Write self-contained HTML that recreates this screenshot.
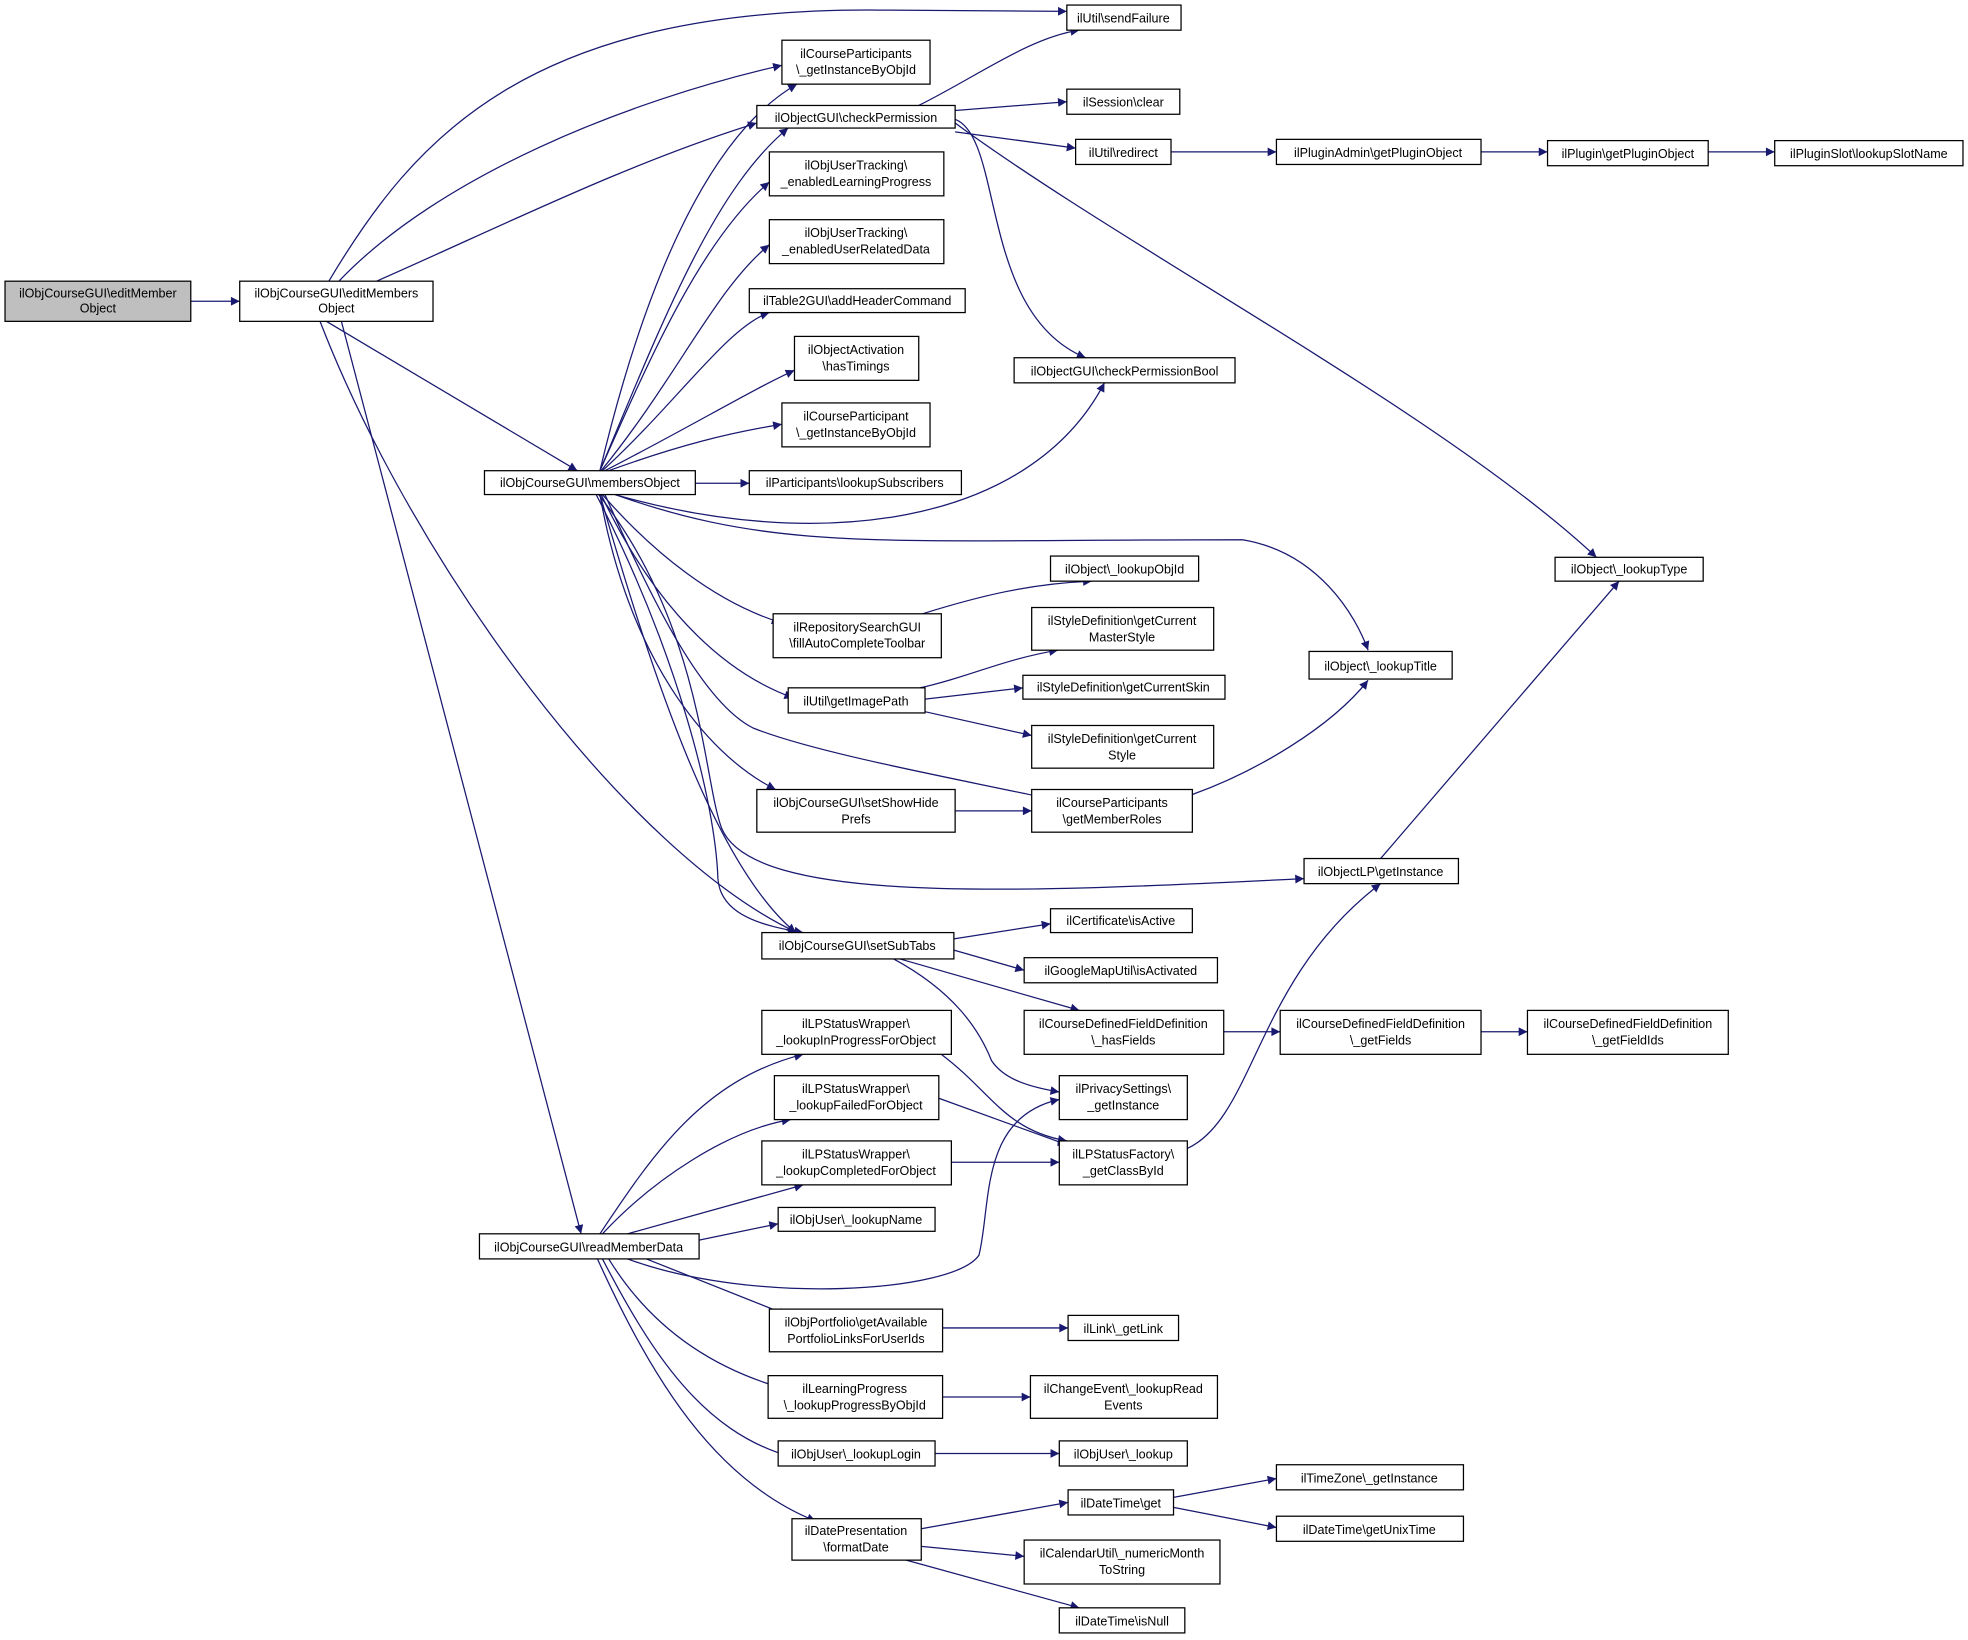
<!DOCTYPE html>
<html><head><meta charset="utf-8"><style>
html,body{margin:0;padding:0;background:#fff;}
svg{display:block;}
text{font-family:"Liberation Sans",Arial,sans-serif;font-size:10px;fill:#000;text-anchor:middle;}
.b{fill:#fff;stroke:#000;stroke-width:1;}
.g{fill:#bfbfbf;stroke:#000;stroke-width:1;}
.e{fill:none;stroke:#191970;stroke-width:1;marker-end:url(#a);}
</style></head><body>
<svg width="1968" height="1640" viewBox="0 0 1568 1306.6" xmlns="http://www.w3.org/2000/svg">
<defs><marker id="a" viewBox="0 0 10 10" refX="10" refY="5" markerWidth="9" markerHeight="7" orient="auto" markerUnits="userSpaceOnUse"><path d="M0,0 L10,5 L0,10 z" fill="#191970"/></marker></defs>
<g>
<path class="e" d="M152,240 L191,240"/>
<path class="e" d="M262,224 C330,110 420,6 700,8 L850,9"/>
<path class="e" d="M270,224 C350,140 500,80 623,52"/>
<path class="e" d="M300,224 C400,180 500,130 603,98"/>
<path class="e" d="M260,256 L460,375"/>
<path class="e" d="M255,256 C330,450 500,680 635,743"/>
<path class="e" d="M272,256 L463,983"/>
<path class="e" d="M478,375 C510,240 560,110 635,67"/>
<path class="e" d="M478,375 C530,250 570,150 628,102"/>
<path class="e" d="M478,375 C520,280 560,190 613,145"/>
<path class="e" d="M479,375 C540,300 570,230 613,195"/>
<path class="e" d="M480,375 C540,320 580,260 613,249"/>
<path class="e" d="M482,375 C550,340 600,310 633,295"/>
<path class="e" d="M485,375 C540,355 580,345 623,338"/>
<path class="e" d="M554,385 L597,385"/>
<path class="e" d="M490,394 C650,440 820,420 880,305"/>
<path class="e" d="M490,394 C620,440 700,430 990,430 C1050,440 1080,490 1090,518"/>
<path class="e" d="M480,394 C520,440 570,480 622,496"/>
<path class="e" d="M479,394 C510,460 560,530 632,556"/>
<path class="e" d="M482,394 C520,480 560,560 600,580 C650,600 760,620 834,636"/>
<path class="e" d="M478,394 C500,520 560,600 618,629"/>
<path class="e" d="M478,394 C520,540 570,690 634,743"/>
<path class="e" d="M475,394 C540,520 570,640 572,700 C574,730 610,738 640,743"/>
<path class="e" d="M477,394 C560,500 560,620 575,660 C600,720 800,712 1039,700"/>
<path class="e" d="M732,84 C780,60 820,30 860,24"/>
<path class="e" d="M761,88 L850,81"/>
<path class="e" d="M761,105 L857,118"/>
<path class="e" d="M761,95 C800,110 780,250 865,285"/>
<path class="e" d="M761,98 C900,200 1150,330 1272,444"/>
<path class="e" d="M933,121 L1017,121"/>
<path class="e" d="M1180,121 L1233,121"/>
<path class="e" d="M1361,121 L1414,121"/>
<path class="e" d="M735,489 C780,475 820,465 870,463"/>
<path class="e" d="M733,548 C770,540 800,525 843,518"/>
<path class="e" d="M737,557 L815,548"/>
<path class="e" d="M737,567 L822,586"/>
<path class="e" d="M761,646 L822,646"/>
<path class="e" d="M950,633 C1000,615 1060,580 1090,542"/>
<path class="e" d="M1100,684 L1290,463"/>
<path class="e" d="M760,748 L837,736"/>
<path class="e" d="M760,757 L816,773"/>
<path class="e" d="M717,764 L860,805"/>
<path class="e" d="M712,764 C760,790 780,820 790,845 C800,860 820,866 844,870"/>
<path class="e" d="M975,822 L1020,822"/>
<path class="e" d="M1180,822 L1217,822"/>
<path class="e" d="M946,915 C1000,890 1000,780 1100,704"/>
<path class="e" d="M750,840 C790,870 800,900 850,909"/>
<path class="e" d="M748,875 L850,912"/>
<path class="e" d="M758,926 L844,926"/>
<path class="e" d="M478,983 C520,920 560,860 640,840"/>
<path class="e" d="M480,983 C520,940 580,900 630,892"/>
<path class="e" d="M500,983 L640,944"/>
<path class="e" d="M557,988 L620,975"/>
<path class="e" d="M500,1003 C600,1040 760,1030 780,1000 C790,960 780,890 844,876"/>
<path class="e" d="M515,1003 L628,1048"/>
<path class="e" d="M485,1003 C520,1060 570,1090 620,1105"/>
<path class="e" d="M480,1003 C520,1080 560,1140 628,1160"/>
<path class="e" d="M476,1003 C520,1100 570,1180 650,1212"/>
<path class="e" d="M751,1058 L851,1058"/>
<path class="e" d="M751,1113 L821,1113"/>
<path class="e" d="M745,1158 L844,1158"/>
<path class="e" d="M734,1218 L851,1197"/>
<path class="e" d="M734,1232 L816,1240"/>
<path class="e" d="M722,1243 L860,1281"/>
<path class="e" d="M935,1193 L1017,1178"/>
<path class="e" d="M935,1201 L1017,1217"/>
</g>
<g>
<rect class="g" x="4" y="224" width="148" height="32"/><text x="78" y="237">ilObjCourseGUI\editMember</text><text x="78" y="249">Object</text>
<rect class="b" x="191" y="224" width="154" height="32"/><text x="268" y="237">ilObjCourseGUI\editMembers</text><text x="268" y="249">Object</text>
<rect class="b" x="386" y="375" width="168" height="19"/><text x="470" y="388">ilObjCourseGUI\membersObject</text>
<rect class="b" x="382" y="983" width="175" height="20"/><text x="469" y="997">ilObjCourseGUI\readMemberData</text>
<rect class="b" x="607" y="743" width="153" height="21"/><text x="683" y="757">ilObjCourseGUI\setSubTabs</text>

<rect class="b" x="623" y="32" width="118" height="35"/><text x="682" y="46">ilCourseParticipants</text><text x="682" y="59">\_getInstanceByObjId</text>
<rect class="b" x="603" y="84" width="158" height="18"/><text x="682" y="97">ilObjectGUI\checkPermission</text>
<rect class="b" x="613" y="121" width="139" height="35"/><text x="682" y="135">ilObjUserTracking\</text><text x="682" y="148">_enabledLearningProgress</text>
<rect class="b" x="613" y="175" width="139" height="35"/><text x="682" y="189">ilObjUserTracking\</text><text x="682" y="202">_enabledUserRelatedData</text>
<rect class="b" x="597" y="230" width="172" height="19"/><text x="683" y="243">ilTable2GUI\addHeaderCommand</text>
<rect class="b" x="633" y="268" width="99" height="35"/><text x="682" y="282">ilObjectActivation</text><text x="682" y="295">\hasTimings</text>
<rect class="b" x="623" y="321" width="118" height="35"/><text x="682" y="335">ilCourseParticipant</text><text x="682" y="348">\_getInstanceByObjId</text>
<rect class="b" x="597" y="375" width="169" height="19"/><text x="681" y="388">ilParticipants\lookupSubscribers</text>
<rect class="b" x="616" y="489" width="134" height="35"/><text x="683" y="503">ilRepositorySearchGUI</text><text x="683" y="516">\fillAutoCompleteToolbar</text>
<rect class="b" x="628" y="548" width="109" height="20"/><text x="682" y="562">ilUtil\getImagePath</text>
<rect class="b" x="603" y="629" width="158" height="34"/><text x="682" y="643">ilObjCourseGUI\setShowHide</text><text x="682" y="656">Prefs</text>
<rect class="b" x="607" y="805" width="151" height="35"/><text x="682" y="819">ilLPStatusWrapper\</text><text x="682" y="832">_lookupInProgressForObject</text>
<rect class="b" x="617" y="857" width="131" height="35"/><text x="682" y="871">ilLPStatusWrapper\</text><text x="682" y="884">_lookupFailedForObject</text>
<rect class="b" x="607" y="909" width="151" height="35"/><text x="682" y="923">ilLPStatusWrapper\</text><text x="682" y="936">_lookupCompletedForObject</text>
<rect class="b" x="620" y="962" width="125" height="19"/><text x="682" y="975">ilObjUser\_lookupName</text>
<rect class="b" x="613" y="1043" width="138" height="34"/><text x="682" y="1057">ilObjPortfolio\getAvailable</text><text x="682" y="1070">PortfolioLinksForUserIds</text>
<rect class="b" x="612" y="1096" width="139" height="34"/><text x="681" y="1110">ilLearningProgress</text><text x="681" y="1123">\_lookupProgressByObjId</text>
<rect class="b" x="620" y="1148" width="125" height="20"/><text x="682" y="1162">ilObjUser\_lookupLogin</text>
<rect class="b" x="631" y="1210" width="103" height="33"/><text x="682" y="1223">ilDatePresentation</text><text x="682" y="1236">\formatDate</text>

<rect class="b" x="850" y="4" width="91" height="20"/><text x="895" y="18">ilUtil\sendFailure</text>
<rect class="b" x="850" y="71" width="90" height="20"/><text x="895" y="85">ilSession\clear</text>
<rect class="b" x="857" y="111" width="76" height="20"/><text x="895" y="125">ilUtil\redirect</text>
<rect class="b" x="808" y="285" width="176" height="20"/><text x="896" y="299">ilObjectGUI\checkPermissionBool</text>
<rect class="b" x="837" y="443" width="118" height="20"/><text x="896" y="457">ilObject\_lookupObjId</text>
<rect class="b" x="822" y="484" width="145" height="34"/><text x="894" y="498">ilStyleDefinition\getCurrent</text><text x="894" y="511">MasterStyle</text>
<rect class="b" x="815" y="538" width="161" height="19"/><text x="895" y="551">ilStyleDefinition\getCurrentSkin</text>
<rect class="b" x="822" y="578" width="145" height="34"/><text x="894" y="592">ilStyleDefinition\getCurrent</text><text x="894" y="605">Style</text>
<rect class="b" x="822" y="629" width="128" height="34"/><text x="886" y="643">ilCourseParticipants</text><text x="886" y="656">\getMemberRoles</text>
<rect class="b" x="837" y="724" width="113" height="19"/><text x="893" y="737">ilCertificate\isActive</text>
<rect class="b" x="816" y="763" width="154" height="20"/><text x="893" y="777">ilGoogleMapUtil\isActivated</text>
<rect class="b" x="816" y="805" width="159" height="35"/><text x="895" y="819">ilCourseDefinedFieldDefinition</text><text x="895" y="832">\_hasFields</text>
<rect class="b" x="844" y="857" width="102" height="35"/><text x="895" y="871">ilPrivacySettings\</text><text x="895" y="884">_getInstance</text>
<rect class="b" x="844" y="909" width="102" height="35"/><text x="895" y="923">ilLPStatusFactory\</text><text x="895" y="936">_getClassById</text>
<rect class="b" x="851" y="1048" width="88" height="20"/><text x="895" y="1062">ilLink\_getLink</text>
<rect class="b" x="821" y="1096" width="149" height="34"/><text x="895" y="1110">ilChangeEvent\_lookupRead</text><text x="895" y="1123">Events</text>
<rect class="b" x="844" y="1148" width="102" height="20"/><text x="895" y="1162">ilObjUser\_lookup</text>
<rect class="b" x="851" y="1187" width="84" height="20"/><text x="893" y="1201">ilDateTime\get</text>
<rect class="b" x="816" y="1227" width="156" height="35"/><text x="894" y="1241">ilCalendarUtil\_numericMonth</text><text x="894" y="1254">ToString</text>
<rect class="b" x="844" y="1281" width="100" height="20"/><text x="894" y="1295">ilDateTime\isNull</text>

<rect class="b" x="1017" y="111" width="163" height="20"/><text x="1098" y="125">ilPluginAdmin\getPluginObject</text>
<rect class="b" x="1043" y="519" width="114" height="22"/><text x="1100" y="534">ilObject\_lookupTitle</text>
<rect class="b" x="1039" y="684" width="123" height="20"/><text x="1100" y="698">ilObjectLP\getInstance</text>
<rect class="b" x="1020" y="805" width="160" height="35"/><text x="1100" y="819">ilCourseDefinedFieldDefinition</text><text x="1100" y="832">\_getFields</text>
<rect class="b" x="1017" y="1167" width="149" height="20"/><text x="1091" y="1181">ilTimeZone\_getInstance</text>
<rect class="b" x="1017" y="1208" width="149" height="20"/><text x="1091" y="1222">ilDateTime\getUnixTime</text>

<rect class="b" x="1233" y="112" width="128" height="20"/><text x="1297" y="126">ilPlugin\getPluginObject</text>
<rect class="b" x="1239" y="444" width="118" height="19"/><text x="1298" y="457">ilObject\_lookupType</text>
<rect class="b" x="1217" y="805" width="160" height="35"/><text x="1297" y="819">ilCourseDefinedFieldDefinition</text><text x="1297" y="832">\_getFieldIds</text>
<rect class="b" x="1414" y="112" width="150" height="20"/><text x="1489" y="126">ilPluginSlot\lookupSlotName</text>
</g>
</svg>
</body></html>
